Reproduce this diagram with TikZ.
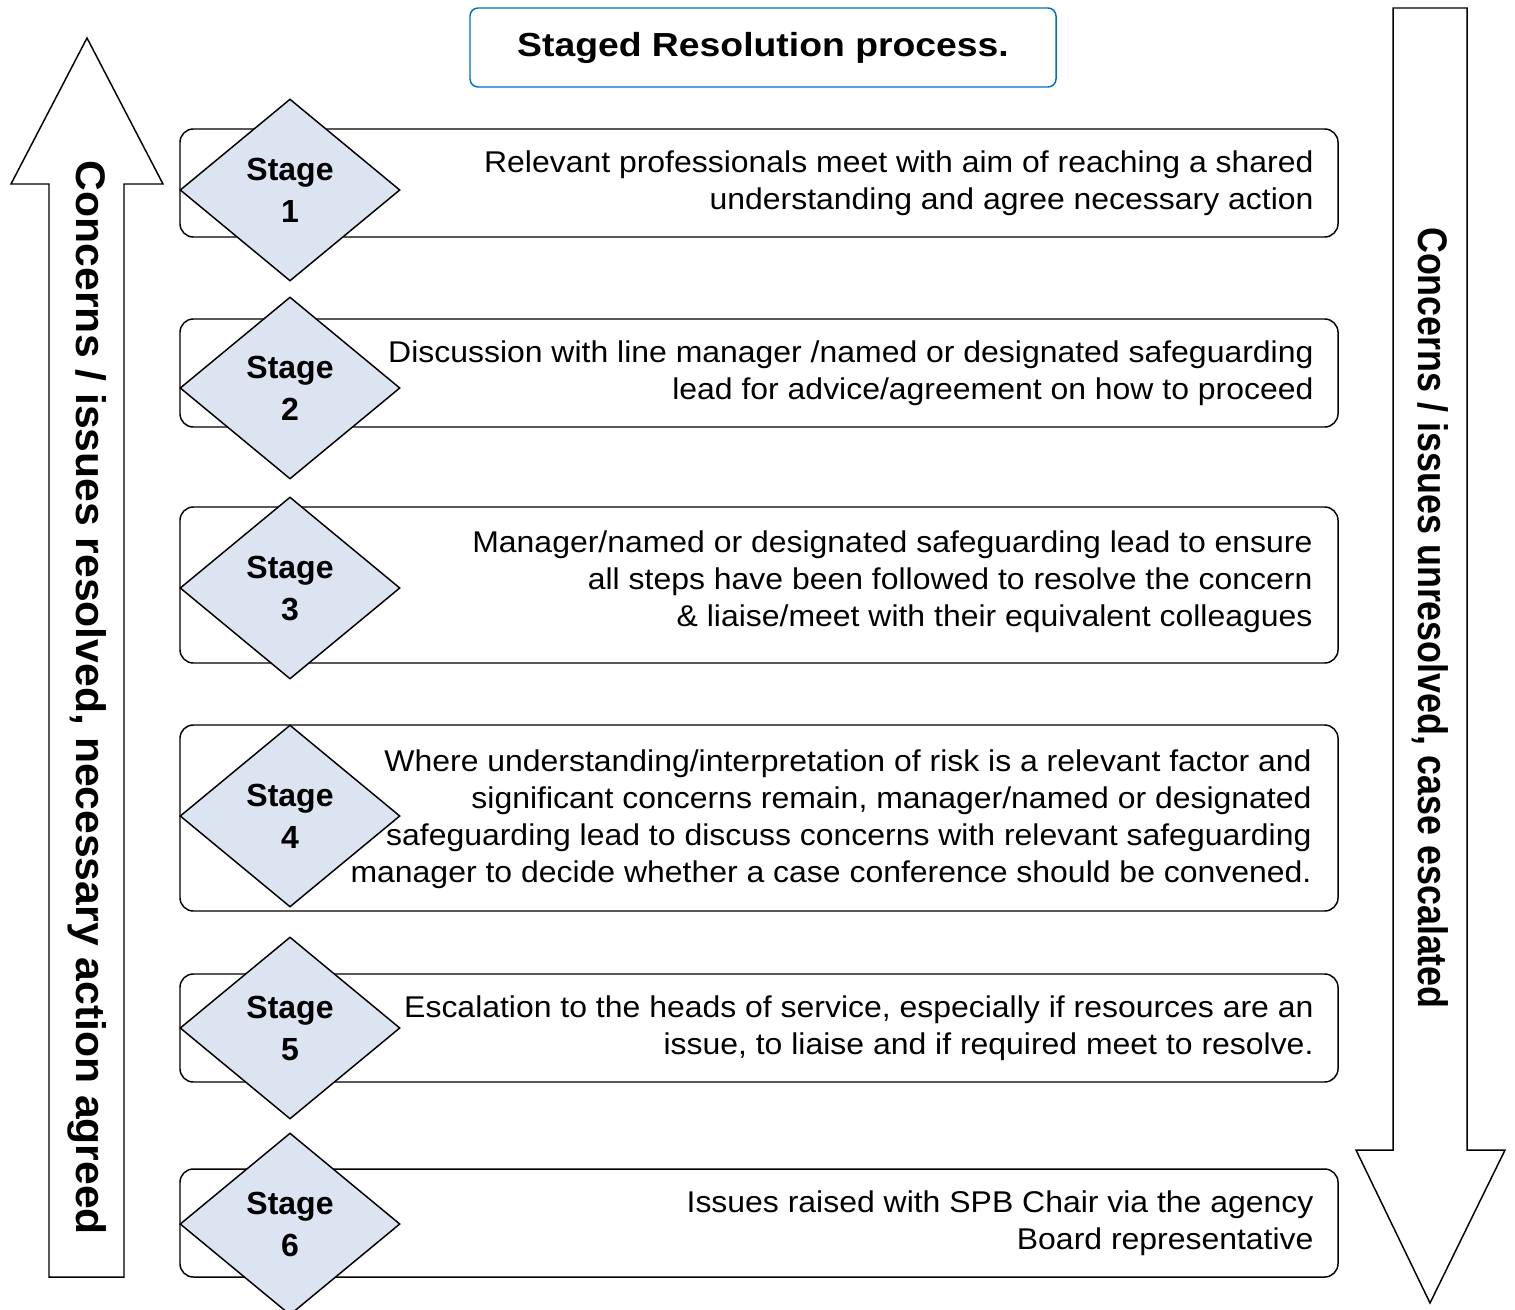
\documentclass[tikz,border=0pt]{standalone}
\usepackage{fontspec}
\usepackage{graphicx}
\setmainfont{Liberation Sans}
\newfontfamily\widefont[FakeStretch=1.065]{Liberation Sans}
\newfontfamily\titlefont[FakeStretch=1.12]{Liberation Sans}
\usetikzlibrary{shapes.geometric}

\tikzset{every picture/.style={line width=0.75pt}}
\tikzset{
  stagebox/.style={draw, line width=1.1, rounded corners=10pt},
  stagediamond/.style={shape=diamond, draw, line width=1.1, fill={rgb, 255:red, 219; green, 228; blue, 240 }, minimum width=165pt, minimum height=136.5pt, inner sep=0pt, align=center, font=\bfseries\fontsize{24}{31.5}\selectfont},
  stagetext/.style={anchor=east, inner sep=0pt, align=right, font=\widefont\fontsize{22.5}{27.75}\selectfont},
  bigarrow/.style={draw, line width=1.1, fill=white},
  arrowtext/.style={rotate=-90, inner sep=0pt, font=\bfseries\fontsize{31}{37}\selectfont},
}

\begin{document}
\begin{tikzpicture}[x=0.75pt,y=0.75pt,yscale=-1,xscale=1]
	\useasboundingbox (0,0) rectangle (1515,1309);
	
	%Shape: Up Arrow
	\draw [bigarrow] (49,1277) -- (49,184) -- (11,184) -- (87,38) -- (163,184) -- (124,184) -- (124,1277) -- cycle ;
	%Shape: Down Arrow
	\draw [bigarrow] (1393,8) -- (1467,8) -- (1467,1150) -- (1505,1150) -- (1430,1303) -- (1356,1150) -- (1393,1150) -- cycle ;
	% Text Node
	\node [arrowtext] (resolved) at (87,698) {\scalebox{1.032}[1]{Concerns / issues resolved, necessary action agreed}};
	% Text Node
	\node [arrowtext] (unresolved) at (1430,618) {\scalebox{0.868}[1]{Concerns / issues unresolved, case escalated}};
	
	% Title
	\node [draw={rgb, 255:red, 0; green, 112; blue, 192 }, line width=1.1, rounded corners=6pt, minimum width=439.5pt, minimum height=59.25pt, font=\titlefont\bfseries\fontsize{25}{30}\selectfont] (title) at (763,47.5) {Staged Resolution process.};
	
	%Rounded Rect Stage 1
	\draw [stagebox] (180,129) rectangle (1338,237) ;
	\node [stagediamond] (st1) at (290,190) {Stage\\1};
	\node [stagetext] (txt1) at (1314,183) {Relevant professionals meet with aim of reaching a shared\\understanding and agree necessary action};
	
	%Rounded Rect Stage 2
	\draw [stagebox] (180,319) rectangle (1338,427) ;
	\node [stagediamond] (st2) at (290,388) {Stage\\2};
	\node [stagetext] (txt2) at (1314,373) {Discussion with line manager /named or designated safeguarding\\lead for advice/agreement on how to proceed};
	
	%Rounded Rect Stage 3
	\draw [stagebox] (180,507) rectangle (1338,663) ;
	\node [stagediamond] (st3) at (290,588) {Stage\\3};
	\node [stagetext] (txt3) at (1313,582) {Manager/named or designated safeguarding lead to ensure\\all steps have been followed to resolve the concern\\\& liaise/meet with their equivalent colleagues};
	
	%Rounded Rect Stage 4
	\draw [stagebox] (180,725) rectangle (1338,911) ;
	\node [stagediamond] (st4) at (290,816) {Stage\\4};
	\node [stagetext] (txt4) at (1312,819) {Where understanding/interpretation of risk is a relevant factor and\\significant concerns remain, manager/named or designated\\safeguarding lead to discuss concerns with relevant safeguarding\\manager to decide whether a case conference should be convened.};
	
	%Rounded Rect Stage 5
	\draw [stagebox] (180,974) rectangle (1338,1082) ;
	\node [stagediamond] (st5) at (290,1028) {Stage\\5};
	\node [stagetext] (txt5) at (1314,1028) {Escalation to the heads of service, especially if resources are an\\issue, to liaise and if required meet to resolve.};
	
	%Rounded Rect Stage 6
	\draw [stagebox] (180,1169) rectangle (1338,1277) ;
	\node [stagediamond] (st6) at (290,1224) {Stage\\6};
	\node [stagetext] (txt6) at (1314,1223) {Issues raised with SPB Chair via the agency\\Board representative};
	
\end{tikzpicture}
\end{document}
